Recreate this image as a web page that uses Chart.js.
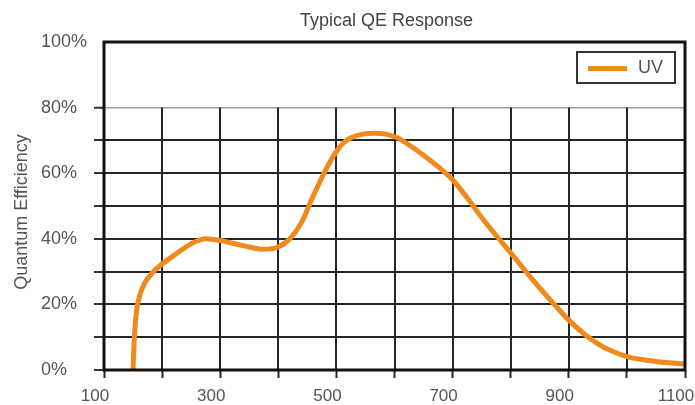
<!DOCTYPE html>
<html>
<head>
<meta charset="utf-8">
<script src="https://cdn.jsdelivr.net/npm/chart.js@4.4.1/dist/chart.umd.min.js"></script>
<style>
  html, body { margin: 0; padding: 0; background: #fff; }
  #wrap { width: 695px; height: 405px; }
</style>
</head>
<body>
<div id="wrap"><canvas id="qe"></canvas></div>
<script>
// values
const wavelengths = [150, 151, 153, 156, 162, 170, 185, 200, 225, 250, 275, 300, 325, 350, 375, 400, 420, 440, 460, 480, 490, 500, 512, 525, 545, 565, 585, 605, 625, 650, 675, 700, 725, 750, 775, 800, 825, 850, 875, 900, 925, 950, 975, 1000, 1050, 1100];
const qeUV = [0, 5, 12, 18, 23, 26.5, 30, 32.3, 35.5, 38.5, 40, 39.5, 38.5, 37.5, 36.8, 37.5, 40, 45, 53, 60.5, 63.8, 66.6, 69.2, 70.8, 71.9, 72.2, 71.9, 70.8, 68.6, 65.5, 62, 58, 52.5, 46.5, 41, 35.7, 30.3, 25, 20, 15.2, 11.2, 8, 5.7, 4.1, 2.6, 1.8];
const xLabels = [100, 300, 500, 700, 900, 1100];
const yLabels = [0, 20, 40, 60, 80, 100];

const seriesName = 'UV';
const chartTitle = 'Typical QE Response';
const yTitle = 'Quantum Efficiency';

const FONT = "'Liberation Sans', Arial, sans-serif";
Chart.defaults.font.family = FONT;
Chart.defaults.font.size = 18;
Chart.defaults.color = '#555';

// vertical grid only below the 80% line, like the original
const lowerGrid = {
    id: 'lowerGrid',
    beforeDatasetsDraw(chart) {
        const {ctx, chartArea, scales: {x, y}} = chart;
        const top = y.getPixelForValue(80);
        ctx.save();
        ctx.strokeStyle = '#262626';
        ctx.lineWidth = 2;
        x.ticks.forEach(function (t) {
            if (t.value <= x.min || t.value >= x.max) return;
            const px = Math.round(x.getPixelForValue(t.value));
            ctx.beginPath();
            ctx.moveTo(px, top);
            ctx.lineTo(px, chartArea.bottom);
            ctx.stroke();
        });
        ctx.restore();
    }
};

const frameAndLegend = {
    id: 'frameAndLegend',
    afterDatasetsDraw(chart) {
        const {ctx, chartArea} = chart;
        const ds = chart.data.datasets[0];
        ctx.save();
        ctx.strokeStyle = '#111';
        ctx.lineWidth = 3;
        ctx.strokeRect(chartArea.left, chartArea.top, chartArea.right - chartArea.left, chartArea.bottom - chartArea.top);

        // legend box
        const w = 98, h = 31;
        const x0 = chartArea.right - 10 - w;
        const y0 = chartArea.top + 10;
        ctx.fillStyle = '#fff';
        ctx.fillRect(x0, y0, w, h);
        ctx.strokeStyle = '#333';
        ctx.lineWidth = 2;
        ctx.strokeRect(x0, y0, w, h);
        ctx.strokeStyle = ds.borderColor;
        ctx.lineWidth = 5;
        ctx.beginPath();
        ctx.moveTo(x0 + 11, y0 + h / 2 + 1);
        ctx.lineTo(x0 + 50, y0 + h / 2 + 1);
        ctx.stroke();
        ctx.fillStyle = '#555';
        ctx.font = "18px " + FONT;
        ctx.textBaseline = 'middle';
        ctx.fillText(ds.label, x0 + 61, y0 + h / 2 + 1);
        ctx.restore();
    }
};

const titles = {
    id: 'titles',
    afterDraw(chart) {
        const {ctx, chartArea} = chart;
        ctx.save();
        ctx.fillStyle = '#444';
        ctx.font = "18px " + FONT;
        ctx.textAlign = 'center';
        ctx.textBaseline = 'middle';
        ctx.fillText(chartTitle, (chartArea.left + chartArea.right) / 2 - 8, 21);
        ctx.fillStyle = '#555';
        ctx.translate(22, (chartArea.top + chartArea.bottom) / 2 + 6);
        ctx.rotate(-Math.PI / 2);
        ctx.fillText(yTitle, 0, 0);
        ctx.restore();
    }
};

const ctx = document.getElementById('qe').getContext('2d');
const chart = new Chart(ctx, {
    type: 'line',
    data: {
        datasets: [{
            label: seriesName,
            data: wavelengths.map(function (w, i) { return {x: w, y: qeUV[i]}; }),
            borderColor: '#f08a1c',
            borderWidth: 5,
            pointRadius: 0,
            cubicInterpolationMode: 'monotone',
            fill: false
        }]
    },
    options: {
        responsive: true,
        maintainAspectRatio: false,
        animation: false,
        layout: {
            padding: {left: 41, right: 10, top: 42, bottom: 0}
        },
        plugins: {
            legend: {display: false},
            tooltip: {enabled: false},
            title: {display: false}
        },
        scales: {
            x: {
                type: 'linear',
                min: 100,
                max: 1100,
                afterFit: function (scale) {
                    scale.height = 35;
                    scale.paddingLeft = 0;
                    scale.paddingRight = 0;
                },
                afterBuildTicks: function (scale) {
                    const t = [];
                    for (let v = 100; v <= 1100; v += 100) t.push({value: v});
                    scale.ticks = t;
                },
                ticks: {
                    autoSkip: false,
                    maxRotation: 0,
                    padding: 8,
                    labelOffset: -9,
                    font: {size: 17},
                    callback: function (v) { return xLabels.includes(v) ? String(v) : ''; }
                },
                grid: {
                    drawOnChartArea: false,
                    tickLength: 8,
                    tickWidth: 2,
                    tickColor: '#262626'
                },
                border: {display: false}
            },
            y: {
                min: 0,
                max: 100,
                afterFit: function (scale) {
                    scale.width = 63;
                },
                ticks: {
                    stepSize: 10,
                    padding: 2,
                    crossAlign: 'far',
                    callback: function (v) { return yLabels.includes(v) ? v + '%' : ''; }
                },
                grid: {
                    color: function (c) {
                        const v = c.tick.value;
                        if (v === 0 || v >= 90) return 'rgba(0,0,0,0)';
                        return v === 80 ? '#a0a0a0' : '#262626';
                    },
                    lineWidth: function (c) { return c.tick.value === 80 ? 1.5 : 2; },
                    tickColor: function (c) { return c.tick.value >= 90 ? 'rgba(0,0,0,0)' : '#333'; },
                    tickLength: 17,
                    tickWidth: 2,
                    tickBorderDash: [0, 7, 10, 100]
                },
                border: {display: false}
            }
        }
    },
    plugins: [lowerGrid, frameAndLegend, titles]
});
</script>
</body>
</html>
